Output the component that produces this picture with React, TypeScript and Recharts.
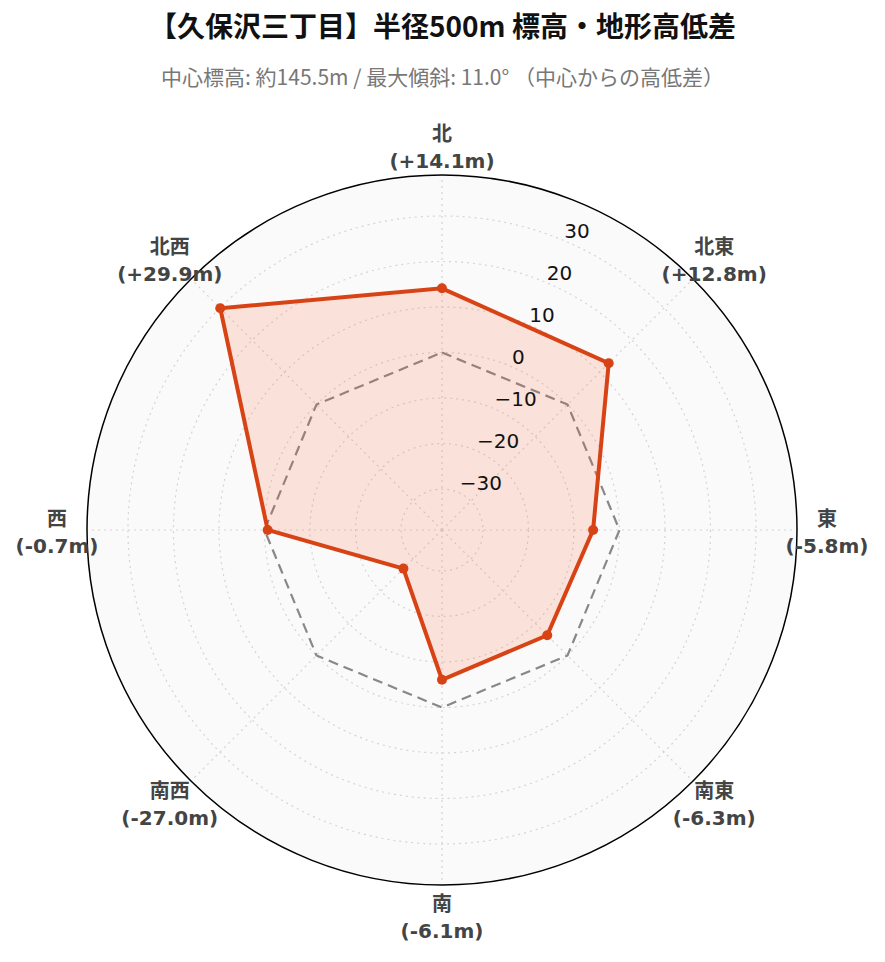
import { RadarChart, Radar, PolarGrid, PolarAngleAxis, PolarRadiusAxis } from "recharts";

const directions = ["北", "北東", "東", "南東", "南", "南西", "西", "北西"];
const elevationDiffs = [14.1, 12.8, -5.8, -6.3, -6.1, -27.0, -0.7, 29.9];
const zeroLine = [0, 0, 0, 0, 0, 0, 0, 0];
const radiusTicks = [-30, -20, -10, 0, 10, 20, 30];
const radiusMax = 38.87;

const data = directions.map((dir, i) => ({
  dir,
  diff: elevationDiffs[i],
  zero: zeroLine[i],
}));

const W = 885;
const H = 962;
const CX = 442;
const CY = 530;
const R = 355;

const fmtDiff = (v: number) => `(${v >= 0 ? "+" : ""}${v.toFixed(1)}m)`;

function AngleTick(props: any) {
  const { x, y, payload, index } = props;
  return (
    <text
      textAnchor="middle"
      fontFamily="'DejaVu Sans', 'Noto Sans CJK JP', sans-serif"
      fontWeight="bold"
      fontSize={20}
      fill="#444"
    >
      <tspan x={x} y={y - 4}>
        {payload.value}
      </tspan>
      <tspan x={x} y={y + 23}>
        {fmtDiff(elevationDiffs[index])}
      </tspan>
    </text>
  );
}

function RadiusTick(props: any) {
  const { x, y, payload } = props;
  const v = payload.value;
  return (
    <text
      x={x + 2}
      y={y - 2}
      textAnchor="start"
      fontFamily="'DejaVu Sans', sans-serif"
      fontSize={20}
      fill="#111"
    >
      {v < 0 ? `\u2212${Math.abs(v)}` : String(v)}
    </text>
  );
}

export default function App() {
  return (
    <div style={{ position: "absolute", left: 0, top: 0, width: W, height: H, background: "#fff" }}>
      <div
        style={{
          position: "absolute",
          left: 0,
          top: 4,
          width: W,
          textAlign: "center",
          fontFamily: "'Noto Sans CJK JP', sans-serif",
          fontWeight: 700,
          fontSize: 28,
          lineHeight: "42px",
          color: "#111",
        }}
      >
        【久保沢三丁目】半径500m 標高・地形高低差
      </div>
      <div
        style={{
          position: "absolute",
          left: 0,
          top: 61,
          width: W,
          textAlign: "center",
          fontFamily: "'Noto Sans CJK JP', sans-serif",
          fontSize: 21,
          lineHeight: "30px",
          color: "#777",
        }}
      >
        中心標高: 約145.5m / 最大傾斜: 11.0° （中心からの高低差）
      </div>
      <div
        style={{
          position: "absolute",
          left: CX - R,
          top: CY - R,
          width: R * 2,
          height: R * 2,
          borderRadius: "50%",
          background: "#fafafa",
        }}
      />
      <div style={{ position: "absolute", left: 0, top: 0 }}>
        <RadarChart
          width={W}
          height={H}
          data={data}
          cx={CX}
          cy={CY}
          outerRadius={R}
          margin={{ top: 0, right: 0, bottom: 0, left: 0 }}
        >
          <PolarGrid gridType="circle" stroke="#d4d4d4" strokeDasharray="2 4" strokeWidth={1.2} />
          <PolarAngleAxis
            dataKey="dir"
            tick={AngleTick}
            tickLine={false}
            tickSize={30}
            axisLineType="circle"
            axisLine={{ stroke: "#000", strokeWidth: 1.5, strokeDasharray: "" }}
          />
          <PolarRadiusAxis
            angle={67.5}
            domain={[-radiusMax, radiusMax]}
            ticks={radiusTicks as any}
            axisLine={false}
            tick={RadiusTick}
          />
          <Radar
            dataKey="zero"
            stroke="#888"
            strokeWidth={2.2}
            strokeDasharray="10 6"
            fill="none"
            fillOpacity={0}
            dot={false}
            isAnimationActive={false}
          />
          <Radar
            dataKey="diff"
            stroke="#d84315"
            strokeWidth={4}
            fill="#ff5722"
            fillOpacity={0.15}
            dot={{ r: 5, fill: "#d84315", stroke: "#d84315", strokeWidth: 0, fillOpacity: 1 }}
            isAnimationActive={false}
          />
        </RadarChart>
      </div>
    </div>
  );
}
